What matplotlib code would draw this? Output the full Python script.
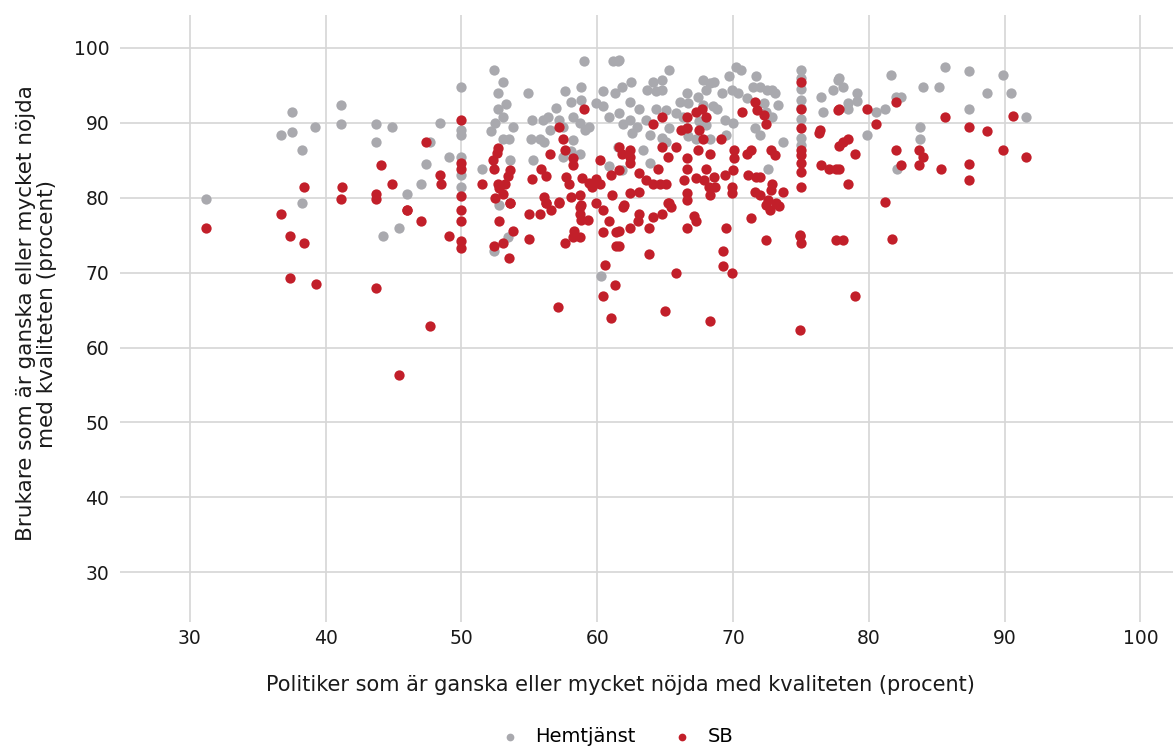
import matplotlib.pyplot as plt

plt.rcParams['font.family'] = ['DejaVu Sans']

# Hemtjänst (gray) - politiker x, brukare y
hem_x = [31.2, 36.7, 37.5, 37.5, 39.2, 38.3, 41.1, 41.1, 43.7, 44.9, 43.7, 38.3,
         44.2, 45.4, 52.8, 53.4, 52.4, 60.3,
         52.4, 53.1, 50.0, 52.7, 53.3, 52.7, 53.1, 52.5, 53.8, 52.2, 53.1, 53.5,
         54.9, 48.4, 47.7, 47.4, 49.1, 47.0, 46.0, 50.0, 50.0, 50.0, 50.0, 50.0,
         51.5, 53.6, 55.2, 56.0, 56.4, 57.0, 57.6, 58.1, 58.8, 58.8, 59.0, 60.4,
         59.9, 60.4, 60.9, 61.3, 61.2, 61.5, 55.1, 55.8, 56.1, 56.5, 57.2, 57.5,
         58.2, 58.7, 59.1, 59.4, 58.2, 57.5, 58.1, 58.7, 55.3, 60.9, 61.5,
         65.3, 64.1, 64.8, 62.5, 61.6, 61.8, 63.7, 64.3, 64.8, 62.4, 63.1, 64.3,
         65.1, 66.1, 66.6, 66.7, 67.8, 68.3, 68.6, 68.0, 67.4, 67.8, 68.5, 68.8,
         69.7, 70.2, 70.6, 69.2, 69.9, 70.4, 71.0, 71.7, 71.5, 72.0, 72.5, 72.9,
         73.1, 72.3, 73.3, 72.4, 72.9, 71.6, 72.0, 73.7, 72.6, 69.4, 70.0, 69.5,
         65.3, 64.8, 65.1, 66.6, 66.7, 67.3, 68.3, 65.8, 66.3, 67.5, 68.0, 62.4,
         62.9, 62.6, 63.6, 63.9, 61.6, 61.9, 63.4, 63.9, 61.8,
         75.0, 75.0, 75.0, 75.0, 75.0, 75.0, 75.0, 75.0,
         76.5, 77.4, 77.7, 76.6,
         77.8, 78.1, 79.1, 79.1, 78.5, 78.5, 81.6, 82.0, 82.4, 80.5, 81.2, 79.9,
         83.8, 83.8, 84.0, 85.2, 85.6, 87.4, 87.4, 88.7, 89.9, 90.5, 91.6, 82.1]
hem_y = [79.9, 88.4, 91.5, 88.8, 89.4, 86.4, 92.4, 89.8, 89.9, 89.4, 87.4, 79.3,
         74.9, 75.9, 79.0, 74.8, 72.9, 69.5,
         97.0, 95.4, 94.8, 94.0, 92.5, 91.8, 90.8, 90.0, 89.4, 88.9, 87.9, 87.9,
         94.0, 90.0, 87.5, 84.5, 85.4, 81.8, 80.5, 89.0, 88.4, 85.4, 83.0, 81.5,
         83.9, 85.0, 90.4, 90.4, 90.8, 92.0, 94.3, 92.8, 93.0, 94.8, 98.3, 94.3,
         92.7, 92.2, 90.8, 94.0, 98.3, 98.3, 87.9, 87.9, 87.4, 89.1, 90.4, 89.5,
         90.8, 90.0, 89.1, 89.5, 87.7, 85.5, 86.2, 85.9, 85.0, 84.2, 86.8,
         97.0, 95.5, 95.7, 95.5, 98.4, 94.8, 94.4, 94.2, 94.4, 92.8, 91.9, 91.9,
         91.7, 92.8, 94.0, 92.6, 95.7, 95.3, 95.5, 94.4, 93.5, 92.4, 92.2, 91.9,
         96.2, 97.5, 97.1, 94.0, 94.4, 94.0, 93.3, 96.2, 94.8, 94.8, 94.4, 94.4,
         94.0, 92.6, 92.4, 91.5, 90.8, 89.3, 88.4, 87.5, 83.9, 90.4, 90.0, 88.4,
         89.3, 88.0, 87.5, 89.3, 88.2, 87.9, 87.9, 91.3, 90.8, 90.2, 89.7, 90.4,
         89.5, 88.6, 90.4, 88.4, 91.3, 89.9, 86.4, 84.6, 83.7,
         97.0, 96.0, 94.5, 93.0, 92.0, 90.5, 88.0, 87.0,
         93.5, 94.4, 95.7, 91.5,
         96.0, 94.8, 94.0, 92.9, 92.6, 91.9, 96.4, 93.5, 93.5, 91.5, 91.8, 88.4,
         89.4, 87.9, 94.8, 94.8, 97.4, 96.9, 91.8, 94.0, 96.4, 94.0, 90.8, 83.9]

# SB (red)
sb_x = [44.1, 44.9, 38.4, 41.2, 41.1, 43.7, 43.7, 36.7,
        31.2, 37.4, 38.4, 37.4, 39.3, 43.7, 47.7, 45.4, 46.0, 47.0,
        50.0, 47.4, 50.0, 50.0, 48.4, 48.5, 50.0, 51.5, 52.7, 52.6, 52.3, 52.4,
        53.6, 53.4, 52.7, 53.2, 52.8, 53.1, 52.5, 53.6, 55.2, 55.9, 56.2, 57.2,
        57.5, 57.6, 56.5, 58.2, 58.2, 59.0, 56.1, 56.2, 57.2, 57.7, 57.9, 58.9,
        59.4, 59.9, 59.6, 60.2, 61.0, 60.2, 61.1, 58.1, 58.7, 58.8, 59.9, 46.0,
        50.0, 50.0, 49.1, 50.0, 50.0, 52.8, 53.6, 53.8, 53.1, 52.4, 53.5, 55.0,
        55.0, 55.8, 56.6, 56.2, 57.2, 57.6, 58.3, 58.2, 58.7, 58.7, 58.7, 58.8,
        59.3, 57.1, 60.4, 60.9, 60.4, 61.4, 61.4, 60.6, 61.3, 60.4, 61.0,
        75.0, 75.0, 75.0, 75.0, 75.0, 75.0, 75.0, 75.0, 75.0,
        61.6, 61.8, 62.4, 62.4, 62.4, 61.6, 63.1, 63.6, 64.1, 64.6, 65.1, 64.5,
        62.4, 63.1, 62.0, 65.2, 64.1, 64.8, 64.8, 65.2, 65.8, 66.2, 66.6, 66.6,
        66.6, 66.6, 66.4, 66.6, 66.6, 67.3, 67.7, 68.0, 67.5, 67.8, 67.4, 68.3,
        68.0, 67.3, 67.9, 68.6, 68.2, 68.7, 68.3, 69.1, 69.4, 70.1, 70.1, 70.0,
        69.9, 69.9, 70.7, 71.6, 71.8, 72.3, 72.4, 71.0, 71.3, 71.1, 71.7, 72.0,
        71.6, 72.0, 72.8, 73.1, 72.9, 72.8, 73.7, 76.4, 76.3, 76.5, 77.1, 77.6,
        77.7, 72.4, 73.2,
        61.9, 63.1, 63.0, 64.1, 64.8, 65.3, 65.4, 62.4, 63.8, 61.6, 61.6, 63.8,
        65.8, 65.0, 68.3, 66.6, 67.1, 67.3, 69.5, 69.3, 69.3, 69.9, 71.3, 72.7,
        73.4, 72.6, 72.4, 74.9, 74.9, 77.6, 74.9,
        77.8, 79.9, 80.5, 82.0, 78.5, 78.1, 77.8, 79.0, 77.8, 78.5, 82.0, 82.4,
        83.7, 84.0, 83.7, 85.3, 85.6, 87.4, 88.7, 87.4, 87.4, 89.9, 91.6, 90.6,
        81.2, 78.1, 81.7, 79.0]
sb_y = [84.4, 81.8, 81.5, 81.4, 79.9, 80.5, 79.8, 77.9,
        75.9, 74.9, 74.0, 69.3, 68.5, 67.9, 62.9, 56.4, 78.4, 76.9,
        90.4, 87.4, 84.6, 83.9, 83.0, 81.9, 80.3, 81.8, 86.6, 86.0, 85.1, 83.9,
        83.7, 82.9, 81.9, 81.8, 81.3, 80.5, 80.0, 79.3, 82.5, 83.9, 82.9, 89.4,
        87.9, 86.4, 85.9, 85.3, 84.4, 91.8, 80.1, 79.3, 79.3, 82.8, 81.9, 82.7,
        82.0, 82.5, 81.5, 85.0, 83.0, 81.9, 80.4, 80.1, 80.4, 79.0, 79.3, 78.4,
        78.4, 76.9, 74.9, 74.2, 73.3, 76.9, 79.3, 75.5, 73.9, 73.5, 71.9, 74.5,
        77.9, 77.9, 78.4, 79.3, 79.4, 73.9, 75.5, 74.8, 74.8, 78.8, 77.9, 77.0,
        77.0, 65.4, 78.4, 76.9, 75.4, 75.4, 73.5, 71.0, 68.4, 66.9, 63.9,
        95.4, 91.9, 89.3, 86.4, 85.7, 84.6, 83.5, 81.5, 74.0,
        86.8, 85.9, 86.4, 85.5, 84.6, 83.7, 83.3, 82.4, 81.9, 81.9, 81.9, 83.9,
        80.6, 80.8, 79.0, 79.3, 89.9, 90.8, 86.8, 85.5, 86.8, 89.1, 90.8, 89.3,
        85.3, 83.9, 82.4, 80.6, 79.7, 91.5, 91.9, 90.8, 89.1, 87.9, 86.4, 85.9,
        83.9, 82.6, 82.4, 82.8, 81.5, 81.5, 80.4, 87.9, 83.0, 86.4, 85.3, 83.7,
        81.5, 80.6, 91.5, 92.8, 91.7, 91.1, 89.9, 85.9, 86.4, 83.0, 82.8, 82.8,
        80.8, 80.4, 86.4, 85.7, 81.9, 81.0, 80.8, 89.1, 88.6, 84.4, 83.9, 83.9,
        91.7, 79.0, 79.3,
        78.8, 77.9, 76.9, 77.4, 77.8, 79.3, 78.8, 75.9, 75.9, 75.5, 73.5, 72.5,
        69.9, 64.9, 63.5, 75.9, 77.5, 76.9, 75.9, 72.9, 70.9, 69.9, 77.3, 78.4,
        78.9, 79.7, 74.4, 74.9, 75.0, 74.4, 62.4,
        91.8, 91.9, 89.9, 92.8, 87.9, 87.5, 86.9, 85.9, 83.9, 81.8, 86.4, 84.4,
        86.4, 85.4, 84.4, 83.9, 90.8, 89.4, 88.9, 84.5, 82.4, 86.4, 85.4, 90.9,
        79.5, 74.4, 74.5, 66.9]

gray = '#a9a9ae'
red = '#c21f2a'
grid_c = '#d6d6d6'
text_c = '#1a1a1a'

fig = plt.figure(figsize=(11.73, 7.47), dpi=100)
ax = fig.add_axes([130 / 1173, 1 - 612 / 747, 1 - 130 / 1173, (612 - 15) / 747])

ax.scatter(hem_x, hem_y, s=55, color=gray, linewidths=0, label='Hemtjänst', zorder=3)
ax.scatter(sb_x, sb_y, s=55, color=red, linewidths=0, label='SB', zorder=4)

ax.set_xlim(25.6, 102.4)
ax.set_ylim(24.7, 104.4)
ax.set_xticks(range(30, 101, 10))
ax.set_yticks(range(30, 101, 10))
ax.grid(True, color=grid_c, linewidth=1.2, zorder=0)
for s in ax.spines.values():
    s.set_visible(False)
ax.tick_params(axis='both', colors=grid_c, labelcolor=text_c, labelsize=13.5,
               length=7, width=1.2)
ax.tick_params(axis='x', pad=5)
ax.tick_params(axis='y', pad=8)

ax.set_xlabel('Politiker som är ganska eller mycket nöjda med kvaliteten (procent)',
              fontsize=15, color=text_c, labelpad=24)
ax.xaxis.set_label_coords((620 - 130) / 1043, -0.105)
ax.set_ylabel('Brukare som är ganska eller mycket nöjda\nmed kvaliteten (procent)',
              fontsize=15.5, color=text_c, labelpad=12, linespacing=1.05)

fig.legend(loc='lower center', bbox_to_anchor=(612 / 1173, -0.022), ncol=2, frameon=False,
           fontsize=14, markerscale=0.75, handletextpad=0.3, columnspacing=1.4)

fig.savefig('out.png', dpi=100)
